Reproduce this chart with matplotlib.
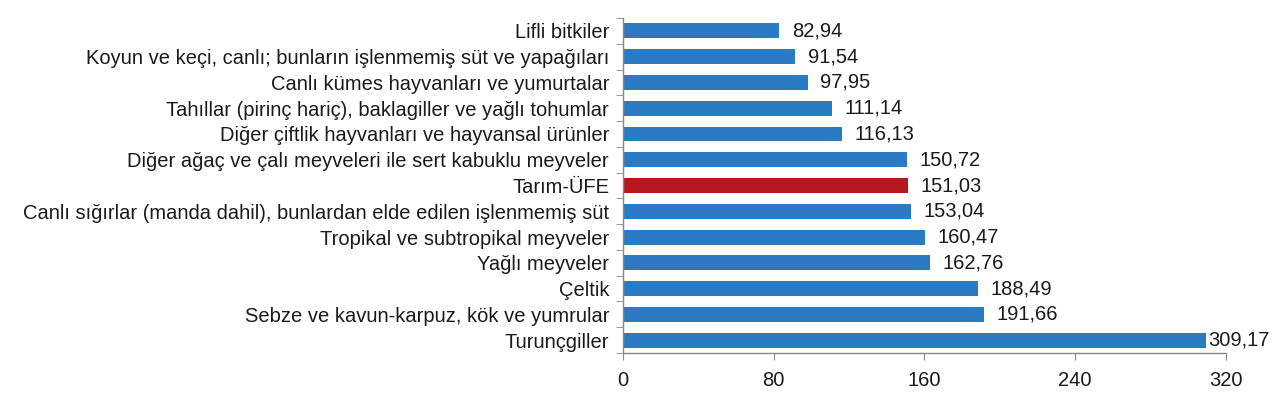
import matplotlib
matplotlib.use("Agg")
import matplotlib.pyplot as plt
import numpy as np

categories = [
    "Lifli bitkiler",
    "Koyun ve keçi, canlı; bunların işlenmemiş süt ve yapağıları",
    "Canlı kümes hayvanları ve yumurtalar",
    "Tahıllar (pirinç hariç), baklagiller ve yağlı tohumlar",
    "Diğer çiftlik hayvanları ve hayvansal ürünler",
    "Diğer ağaç ve çalı meyveleri ile sert kabuklu meyveler",
    "Tarım-ÜFE",
    "Canlı sığırlar (manda dahil), bunlardan elde edilen işlenmemiş süt",
    "Tropikal ve subtropikal meyveler",
    "Yağlı meyveler",
    "Çeltik",
    "Sebze ve kavun-karpuz, kök ve yumrular",
    "Turunçgiller",
]
values = [82.94, 91.54, 97.95, 111.14, 116.13, 150.72, 151.03, 153.04,
          160.47, 162.76, 188.49, 191.66, 309.17]
highlight = "Tarım-ÜFE"
xticks = [0, 80, 160, 240, 320]

plt.rcParams['font.family'] = ['Liberation Sans', 'DejaVu Sans']
FS = 14.5
TXT = '#1a1a1a'

fig = plt.figure(figsize=(12.8, 3.95), dpi=100)
ax = fig.add_axes([0.4867, 0.1063, 0.4711, 0.848])

blue = "#2B7BC4"
red = "#B5191D"
colors = [red if c == highlight else blue for c in categories]
y = np.arange(len(categories))
ax.barh(y, values, height=0.58, color=colors, edgecolor='none')

ax.set_ylim(len(categories) - 0.5, -0.5)
ax.set_xlim(0, 320)
ax.set_xticks(xticks)
ax.set_xticklabels([str(t) for t in xticks], fontsize=FS, color=TXT)
ax.set_yticks(y)
ax.set_yticklabels(categories, fontsize=FS, color=TXT)
ax.tick_params(axis='y', which='major', length=0, pad=10)
ax.set_yticks(np.arange(-0.5, len(categories), 1), minor=True)
ax.tick_params(axis='y', which='minor', length=5, color='#888888', direction='out')
ax.tick_params(axis='x', which='major', length=5, color='#888888', direction='out', pad=8)

for s in ['top', 'right']:
    ax.spines[s].set_visible(False)
for s in ['left', 'bottom']:
    ax.spines[s].set_color('#888888')
    ax.spines[s].set_linewidth(1)

# value labels
fig.canvas.draw()
renderer = fig.canvas.get_renderer()
fig_w_px = fig.get_size_inches()[0] * fig.dpi
for yi, v in zip(y, values):
    label = f"{v:.2f}".replace(".", ",")
    t = ax.annotate(label, xy=(v, yi), xytext=(9, 0), textcoords='offset points',
                    va='center', ha='left', fontsize=FS, color=TXT)
    bb = t.get_window_extent(renderer)
    if bb.x1 > fig_w_px - 8:
        t.set_position((2, 0))

fig.savefig("out.png", dpi=100, facecolor='white')
